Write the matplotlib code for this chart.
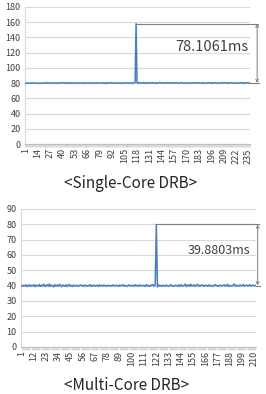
import matplotlib
matplotlib.use("Agg")
import matplotlib.pyplot as plt
import numpy as np

plt.rcParams['font.family'] = ['Noto Sans CJK KR', 'DejaVu Sans']

single_values = [
    79.8, 80.1, 79.6, 80.3, 79.9, 80.0, 79.7, 80.2, 80.4, 79.8, 80.1, 79.5, 80.0, 80.3, 79.9, 79.7, 80.2, 80.0, 79.6, 80.1,
    80.4, 79.8, 80.0, 80.6, 79.7, 80.2, 80.5, 79.9, 80.3, 79.6, 80.7, 80.1, 79.8, 80.4, 80.0, 79.5, 80.6, 80.2, 79.9, 80.3,
    80.8, 79.7, 80.1, 80.5, 79.6, 80.3, 80.0, 80.7, 79.8, 80.2, 79.5, 80.4, 80.1, 79.9, 80.6, 80.0, 79.7, 80.3, 80.5, 79.8,
    80.1, 80.6, 79.6, 80.2, 80.4, 79.9, 80.0, 80.7, 79.7, 80.3, 80.1, 79.5, 80.5, 80.2, 79.8, 80.6, 80.0, 79.9, 80.4, 80.1,
    79.6, 80.3, 80.7, 79.8, 80.2, 79.5, 80.6, 80.0, 79.9, 80.4, 80.8, 79.7, 80.1, 80.3, 79.6, 80.5, 80.2, 79.8, 80.0, 80.6,
    79.7, 80.3, 80.1, 79.5, 80.4, 80.2, 79.9, 80.6, 80.0, 79.8, 80.3, 80.7, 79.6, 80.1, 80.4, 80.9, 158.1, 80.3, 79.6, 80.8,
    80.2, 79.7, 80.5, 80.0, 80.9, 79.8, 80.3, 80.1, 79.6, 80.7, 80.2, 79.9, 80.4, 80.8, 79.7, 80.0, 80.6, 80.3, 79.5, 80.1,
    80.5, 80.9, 79.8, 80.2, 80.7, 80.0, 79.6, 80.4, 80.8, 80.1, 79.9, 80.3, 80.6, 79.7, 80.2, 80.5, 80.0, 79.8, 80.7, 80.3,
    79.6, 80.1, 80.4, 80.8, 79.9, 80.2, 80.0, 79.7, 80.6, 80.3, 79.8, 80.5, 80.1, 79.6, 80.4, 80.7, 80.0, 79.9, 80.3, 80.6,
    79.7, 80.2, 80.5, 80.0, 79.8, 80.4, 80.8, 79.6, 80.1, 80.3, 80.0, 79.9, 80.6, 80.2, 79.7, 80.4, 80.1, 79.5, 80.7, 80.3,
    80.0, 79.8, 80.5, 80.2, 79.6, 80.4, 80.9, 79.9, 80.1, 80.6, 80.3, 79.7, 80.2, 80.5, 79.8, 80.0, 80.7, 80.1, 79.6, 80.4,
    80.2, 79.9, 80.6, 80.0, 79.7, 80.3, 80.8, 79.8, 80.1, 80.4, 79.6, 80.2, 80.5, 80.0, 79.9, 80.3,
]

multi_values = [
    40.1, 39.6, 40.3, 39.8, 40.5, 39.4, 40.0, 40.7, 39.5, 40.2, 39.9, 40.6, 39.3, 40.4, 40.0, 39.7, 40.8, 39.5, 40.3, 39.9,
    40.9, 39.4, 40.2, 40.6, 39.6, 41.1, 39.5, 40.3, 40.0, 39.2, 40.7, 39.8, 40.4, 39.6, 40.9, 40.1, 39.3, 40.5, 40.0, 39.7,
    40.6, 39.4, 40.2, 40.8, 39.7, 40.1, 39.5, 40.4, 40.0, 39.8, 40.3, 39.6, 40.1, 40.5, 39.9, 40.2, 39.6, 40.4, 40.0, 39.7,
    40.3, 39.8, 40.6, 39.5, 40.1, 40.4, 39.7, 40.0, 40.3, 39.6, 40.5, 39.9, 40.2, 39.8, 40.4, 40.0, 39.6, 40.3, 40.1, 39.9,
    40.2, 39.7, 40.5, 40.0, 39.8, 40.3, 40.1, 39.6, 40.4, 39.9, 40.2, 40.6, 39.7, 40.1, 40.0, 39.5, 40.4, 40.2, 39.8, 40.3,
    40.0, 39.7, 40.6, 39.9, 40.2, 39.6, 40.5, 40.1, 39.8, 40.3, 40.0, 39.5, 40.7, 39.9, 40.2, 39.6, 40.4, 40.1, 40.8, 39.7,
    40.3, 79.9, 39.2, 40.5, 39.8, 40.1, 39.6, 40.3, 40.0, 39.7, 40.4, 39.9, 39.5, 40.2, 40.6, 39.8, 40.0, 39.6, 40.3, 40.1,
    39.8, 40.4, 39.5, 40.7, 40.0, 39.7, 40.3, 41.0, 39.4, 40.2, 40.6, 39.6, 40.9, 39.8, 40.1, 40.5, 39.5, 40.3, 40.8, 39.7,
    40.2, 39.9, 40.6, 40.0, 39.6, 40.4, 40.1, 39.8, 40.5, 39.7, 40.2, 40.0, 39.5, 40.3, 40.7, 39.9, 40.1, 39.6, 40.4, 40.0,
    39.8, 40.3, 40.6, 39.7, 40.1, 40.9, 39.5, 40.2, 40.0, 39.8, 40.4, 41.1, 39.6, 40.3, 40.0, 39.7, 40.5, 39.9, 40.2, 40.8,
    39.6, 40.1, 40.4, 39.8, 40.0, 40.6, 39.7, 40.2, 40.3, 39.9, 40.1,
]

single_title = "<Single-Core DRB>"
multi_title = "<Multi-Core DRB>"
single_label = "78.1061ms"
multi_label = "39.8803ms"
single_yticks = [0, 20, 40, 60, 80, 100, 120, 140, 160, 180]
multi_yticks = [0, 10, 20, 30, 40, 50, 60, 70, 80, 90]
single_xstep = 13
multi_xstep = 11

LINE = '#4a7ebb'
GRID = '#d9d9d9'
TXT = '#404040'
ANN = '#7f7f7f'

fig = plt.figure(figsize=(2.66, 3.94), dpi=100)


def draw(ax, values, yticks, step, label, label_x, label_y, arrow_x, line_end, fs):
    n = len(values)
    x = np.arange(1, n + 1)
    ax.plot(x, values, color=LINE, lw=1.1, zorder=3)
    ax.set_xlim(0.5, n + 0.5)
    ax.set_ylim(yticks[0], yticks[-1])
    ax.set_yticks(yticks)
    ax.grid(axis='y', color=GRID, lw=0.8, zorder=0)
    ax.set_axisbelow(True)
    ax.set_xticks(np.arange(1, n + 1, step))
    ax.set_xticks(np.arange(1, n + 1), minor=True)
    ax.tick_params(axis='x', which='both', length=2, width=0.4, color='#bfbfbf',
                   labelsize=6.5, labelrotation=90, labelcolor=TXT, pad=1)
    ax.tick_params(axis='y', length=0, labelsize=6.5, labelcolor=TXT, pad=3)
    for s in ['top', 'right']:
        ax.spines[s].set_visible(False)
    ax.spines['left'].set_color(GRID)
    ax.spines['bottom'].set_color('#bfbfbf')
    peak_i = int(np.argmax(values))
    peak = values[peak_i]
    base = float(np.median(values))
    ax.plot([peak_i + 1, line_end], [peak, peak], color=ANN, lw=0.8, clip_on=False, zorder=4)
    ax.plot([n + 0.5, line_end + 1], [base, base], color=ANN, lw=0.8, clip_on=False, zorder=4)
    ax.annotate('', xy=(arrow_x, peak), xytext=(arrow_x, base),
                arrowprops=dict(arrowstyle='<->', color=ANN, lw=0.7, shrinkA=0, shrinkB=0,
                                mutation_scale=5),
                annotation_clip=False)
    ax.text(label_x, label_y, label, ha='center', va='center', fontsize=fs, color=TXT)


ax1 = fig.add_axes([25 / 266, 1 - 144 / 394, 225 / 266, 137 / 394])
draw(ax1, single_values, single_yticks, single_xstep, single_label, 196, 128, 244, 245, 10.5)
fig.text(131 / 266, 1 - 183 / 394, single_title, ha='center', va='center', fontsize=11, color='#262626')

ax2 = fig.add_axes([21 / 266, 1 - 347 / 394, 235 / 266, 138 / 394])
draw(ax2, multi_values, multi_yticks, multi_xstep, multi_label, 178, 63, 213, 214, 9)
fig.text(127 / 266, 1 - 385 / 394, multi_title, ha='center', va='center', fontsize=11, color='#262626')

fig.savefig('out.png', dpi=100)
